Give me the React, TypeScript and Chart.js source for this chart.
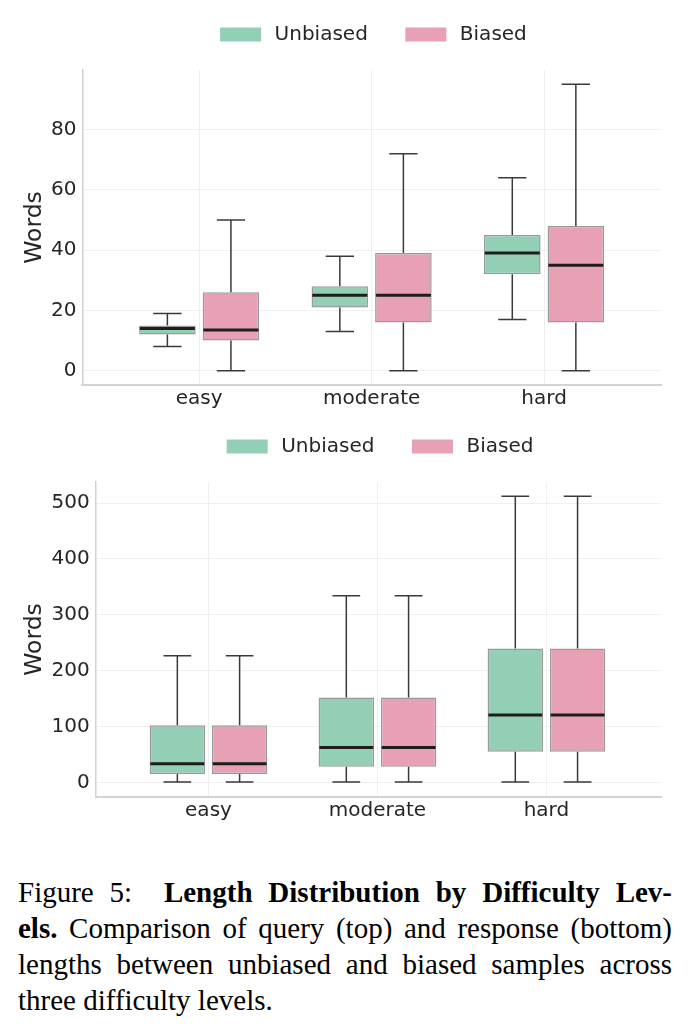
import React, { useEffect, useRef } from 'react';
import { Chart, registerables } from 'chart.js';

Chart.register(...registerables);
Chart.defaults.font.family = "'DejaVu Sans', sans-serif";

// ---------- data ----------
const categories = ['easy', 'moderate', 'hard'];
const seriesNames = ['Unbiased', 'Biased'];

// Top panel: query length (words)
const queryUnbiasedMin = [8, 13, 17];
const queryUnbiasedQ1 = [12, 21, 32];
const queryUnbiasedMedian = [14, 25, 39];
const queryUnbiasedQ3 = [15, 28, 45];
const queryUnbiasedMax = [19, 38, 64];

const queryBiasedMin = [0, 0, 0];
const queryBiasedQ1 = [10, 16, 16];
const queryBiasedMedian = [13.5, 25, 35];
const queryBiasedQ3 = [26, 39, 48];
const queryBiasedMax = [50, 72, 95];

const queryTicks = [0, 20, 40, 60, 80];

// Bottom panel: response length (words)
const responseUnbiasedMin = [1, 1, 1];
const responseUnbiasedQ1 = [15.5, 28.5, 55.5];
const responseUnbiasedMedian = [34, 63, 121];
const responseUnbiasedQ3 = [102.5, 152.5, 240];
const responseUnbiasedMax = [227, 334, 512];

const responseBiasedMin = [1, 1, 1];
const responseBiasedQ1 = [15.5, 28.5, 55.5];
const responseBiasedMedian = [34, 63, 121];
const responseBiasedQ3 = [102.5, 152.5, 240];
const responseBiasedMax = [227, 334, 512];

const responseTicks = [0, 100, 200, 300, 400, 500];

const yAxisTitle = 'Words';

// ---------- styles ----------
const GREEN = '#93cfb5';
const PINK = '#e7a0b4';
const BOX_EDGE = '#9a9a9a';
const WHISKER = '#3a3a3a';
const MEDIAN = '#1e1e1e';
const GRID = '#efefef';
const SPINE = '#d2d2d2';
const TEXT = '#262626';

const CANVAS_W = 691;
const CANVAS_H = 412;
const LEGEND_CENTER = 34.5;
const LEGEND_PAD = 34;
const LEGEND_ITEM_H = 21;

const boxPlugin = {
  id: 'boxWhiskers',
  afterDatasetsDraw(chart: any) {
    const ctx = chart.ctx;
    const y = chart.scales.y;
    chart.data.datasets.forEach((ds: any, di: number) => {
      const meta = chart.getDatasetMeta(di);
      const st = ds.stats;
      meta.data.forEach((el: any, i: number) => {
        const { x, width } = el.getProps(['x', 'width'], true);
        const lo = y.getPixelForValue(st.min[i]);
        const q1 = y.getPixelForValue(st.q1[i]);
        const med = y.getPixelForValue(st.median[i]);
        const q3 = y.getPixelForValue(st.q3[i]);
        const hi = y.getPixelForValue(st.max[i]);
        const cap = width / 4;
        ctx.save();
        ctx.strokeStyle = WHISKER;
        ctx.lineWidth = 1.5;
        ctx.beginPath();
        ctx.moveTo(x, q1);
        ctx.lineTo(x, lo);
        ctx.moveTo(x, q3);
        ctx.lineTo(x, hi);
        ctx.moveTo(x - cap, lo);
        ctx.lineTo(x + cap, lo);
        ctx.moveTo(x - cap, hi);
        ctx.lineTo(x + cap, hi);
        ctx.stroke();
        ctx.strokeStyle = MEDIAN;
        ctx.lineWidth = 3;
        ctx.beginPath();
        ctx.moveTo(x - width / 2 + 0.75, med);
        ctx.lineTo(x + width / 2 - 0.75, med);
        ctx.stroke();
        ctx.restore();
      });
    });
  },
};

const legendPlace = {
  id: 'legendPlace',
  afterLayout(chart: any) {
    const lg = chart.legend;
    if (!lg) return;
    lg.left = chart.chartArea.left;
    lg.right = chart.chartArea.right;
    lg.width = lg.right - lg.left;
    lg.top = LEGEND_CENTER - LEGEND_PAD - LEGEND_ITEM_H / 2;
  },
};

type Stats = { min: number[]; q1: number[]; median: number[]; q3: number[]; max: number[] };

function makeConfig(unb: Stats, bia: Stats, yMin: number, yMax: number, yTicks: number[], xMin: number, xMax: number, yAxisWidth: number): any {
  const mk = (label: string, st: Stats, color: string) => ({
    label,
    data: st.q1.map((v, i) => ({ x: i, y: [v, st.q3[i]] })),
    backgroundColor: color,
    borderColor: BOX_EDGE,
    borderWidth: 1.5,
    borderSkipped: false,
    stats: st,
  });
  return {
    type: 'bar',
    data: {
      datasets: [mk(seriesNames[0], unb, GREEN), mk(seriesNames[1], bia, PINK)],
    },
    options: {
      responsive: false,
      animation: false,
      events: [],
      layout: { padding: { top: 5, left: 21, right: 30, bottom: 0 } },
      datasets: { bar: { categoryPercentage: 0.737, barPercentage: 0.89 } },
      plugins: {
        tooltip: { enabled: false },
        legend: {
          display: true,
          position: 'top',
          align: 'center',
          labels: {
            boxWidth: 48,
            boxHeight: LEGEND_ITEM_H,
            padding: LEGEND_PAD,
            color: TEXT,
            font: { size: 20 },
            generateLabels: (chart: any) =>
              (Chart.defaults.plugins.legend.labels as any)
                .generateLabels(chart)
                .map((it: any) => ({ ...it, strokeStyle: '#ffffff', lineWidth: 7 })),
          },
        },
      },
      scales: {
        x: {
          type: 'linear',
          min: xMin,
          max: xMax,
          offset: false,
          afterBuildTicks: (s: any) => {
            s.ticks = categories.map((_, i) => ({ value: i }));
          },
          afterFit: (s: any) => {
            s.height = CANVAS_H - 385;
          },
          ticks: {
            callback: (v: any) => categories[v],
            color: TEXT,
            font: { size: 20 },
            padding: 2,
            maxRotation: 0,
            autoSkip: false,
          },
          grid: { color: GRID, lineWidth: 1, drawTicks: false, offset: false },
          border: { color: SPINE, width: 2 },
        },
        y: {
          type: 'linear',
          min: yMin,
          max: yMax,
          afterBuildTicks: (s: any) => {
            s.ticks = yTicks.map((v) => ({ value: v }));
          },
          afterFit: (s: any) => {
            s.width = yAxisWidth;
          },
          ticks: { color: TEXT, font: { size: 20 }, padding: 6 },
          grid: { color: GRID, lineWidth: 1, drawTicks: false },
          border: { color: SPINE, width: 1.5 },
          title: { display: true, text: yAxisTitle, color: TEXT, font: { size: 23.5 }, padding: 0 },
        },
      },
    },
    plugins: [boxPlugin, legendPlace],
  };
}

function BoxChart({ config }: { config: any }) {
  const ref = useRef<HTMLCanvasElement | null>(null);
  useEffect(() => {
    if (!ref.current) return;
    const chart = new Chart(ref.current, config);
    return () => chart.destroy();
  }, [config]);
  return (
    <canvas
      ref={ref}
      width={CANVAS_W}
      height={CANVAS_H}
      style={{ display: 'block', width: CANVAS_W, height: CANVAS_H }}
    />
  );
}

const topConfig = makeConfig(
  { min: queryUnbiasedMin, q1: queryUnbiasedQ1, median: queryUnbiasedMedian, q3: queryUnbiasedQ3, max: queryUnbiasedMax },
  { min: queryBiasedMin, q1: queryBiasedQ1, median: queryBiasedMedian, q3: queryBiasedQ3, max: queryBiasedMax },
  -4.75, 99.75, queryTicks, -0.677, 2.678, 61.4
);

const bottomConfig = makeConfig(
  { min: responseUnbiasedMin, q1: responseUnbiasedQ1, median: responseUnbiasedMedian, q3: responseUnbiasedQ3, max: responseUnbiasedMax },
  { min: responseBiasedMin, q1: responseBiasedQ1, median: responseBiasedMedian, q3: responseBiasedQ3, max: responseBiasedMax },
  -25.6, 537.6, responseTicks, -0.668, 2.678, 74.6
);

const lineStyle: React.CSSProperties = { textAlign: 'justify', textAlignLast: 'justify' as any, whiteSpace: 'pre-wrap' };

export default function App() {
  return (
    <div style={{ position: 'absolute', left: 0, top: 0, width: CANVAS_W, height: 1035, background: '#ffffff', overflow: 'hidden' }}>
      <div style={{ position: 'absolute', left: 0, top: 0 }}>
        <BoxChart config={topConfig} />
      </div>
      <div style={{ position: 'absolute', left: 0, top: 412 }}>
        <BoxChart config={bottomConfig} />
      </div>
      <div
        style={{
          position: 'absolute',
          left: 18,
          top: 874,
          width: 654,
          fontFamily: "'Liberation Serif', 'Times New Roman', serif",
          fontSize: 29,
          lineHeight: '36px',
          color: '#000',
        }}
      >
        <div style={lineStyle}>
          Figure 5:{'  '}<b>Length Distribution by Difficulty Lev-</b>
        </div>
        <div style={lineStyle}>
          <b>els.</b> Comparison of query (top) and response (bottom)
        </div>
        <div style={lineStyle}>lengths between unbiased and biased samples across</div>
        <div>three difficulty levels.</div>
      </div>
    </div>
  );
}
